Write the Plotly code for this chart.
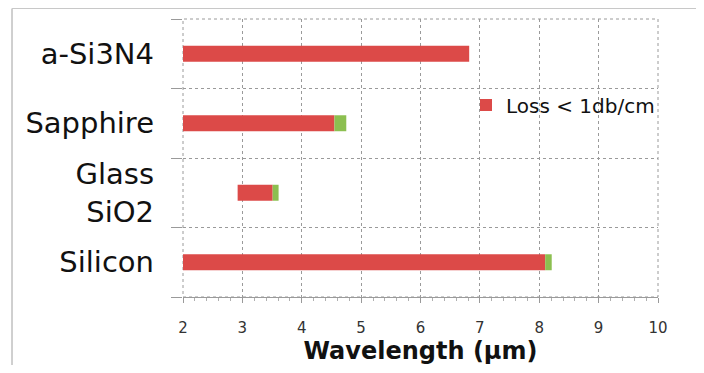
import plotly.graph_objects as go

materials = ["Silicon", "Glass<br>SiO2", "Sapphire", "a-Si3N4"]
start_um = [2.0, 2.92, 2.0, 2.0]
low_loss_end_um = [8.10, 3.51, 4.55, 6.82]
total_end_um = [8.21, 3.61, 4.75, 6.82]
x_ticks = [2, 3, 4, 5, 6, 7, 8, 9, 10]

red_len = [e - s for s, e in zip(start_um, low_loss_end_um)]
green_len = [t - e for e, t in zip(low_loss_end_um, total_end_um)]

# page body has an 8px margin; figure fits inside the window
OFF = 8
W, H = 704 - 2 * OFF, 373 - 2 * OFF
# plot area in screen pixels
SL, SR, ST, SB = 183, 658, 19, 297
L, T = SL - OFF, ST - OFF
R, B = W - (SR - OFF), H - (SB - OFF)
pw, ph = SR - SL, SB - ST

def px(x):
    return (x - SL) / pw

def py(y):
    return (SB - y) / ph

fig = go.Figure()
fig.add_trace(go.Bar(
    y=materials, x=red_len, base=start_um, orientation="h",
    marker=dict(color="#dc4a48", line=dict(width=0)),
    width=0.23, name="Loss < 1db/cm", showlegend=True,
))
fig.add_trace(go.Bar(
    y=materials, x=green_len, base=low_loss_end_um, orientation="h",
    marker=dict(color="#8cbf50", line=dict(width=0)),
    width=0.23, name="", showlegend=False,
))

fig.update_layout(
    width=W, height=H,
    margin=dict(l=L, r=R, t=T, b=B, autoexpand=False),
    paper_bgcolor="white", plot_bgcolor="white",
    barmode="overlay",
    font=dict(family="DejaVu Sans", color="#222"),
    showlegend=True,
    legend=dict(
        x=px(466), y=py(105), xanchor="left", yanchor="middle",
        bgcolor="rgba(0,0,0,0)", font=dict(size=20, color="#111"),
        itemwidth=30, traceorder="normal",
    ),
    xaxis=dict(
        range=[2, 10], tickvals=x_ticks, ticktext=[str(v) for v in x_ticks],
        showgrid=True, gridcolor="#9a9a9a", griddash="dot", gridwidth=1,
        showline=True, linecolor="#9a9a9a", linewidth=1,
        ticks="outside", ticklen=5, tickcolor="#9a9a9a",
        minor=dict(dtick=0.2, ticks="outside", ticklen=3, tickcolor="#b0b0b0", showgrid=False),
        tickfont=dict(size=15, color="#333"), ticklabelstandoff=12,
        zeroline=False, automargin=False,
        title=dict(text="<b>Wavelength (µm)</b>", font=dict(size=24, color="#111"), standoff=10),
    ),
    yaxis=dict(
        categoryorder="array", categoryarray=materials,
        range=[-0.5, 3.5], tickson="boundaries",
        showgrid=True, gridcolor="#9a9a9a", griddash="dot", gridwidth=1,
        ticks="outside", ticklen=11, tickcolor="#9a9a9a",
        tickfont=dict(size=29, color="#111"), ticklabelstandoff=28,
        showline=False, zeroline=False, automargin=False,
    ),
    shapes=[
        dict(type="rect", xref="paper", yref="paper", x0=0, x1=1, y0=0, y1=1,
             line=dict(color="#9a9a9a", width=1, dash="dot"), layer="below"),
        dict(type="line", xref="paper", yref="paper", x0=px(12), x1=px(12), y0=py(8.5), y1=py(373),
             line=dict(color="#a0a0a0", width=1)),
        dict(type="line", xref="paper", yref="paper", x0=px(12), x1=px(704), y0=py(8.5), y1=py(8.5),
             line=dict(color="#c8c8c8", width=1)),
    ],
)

fig.write_html("out.html")
